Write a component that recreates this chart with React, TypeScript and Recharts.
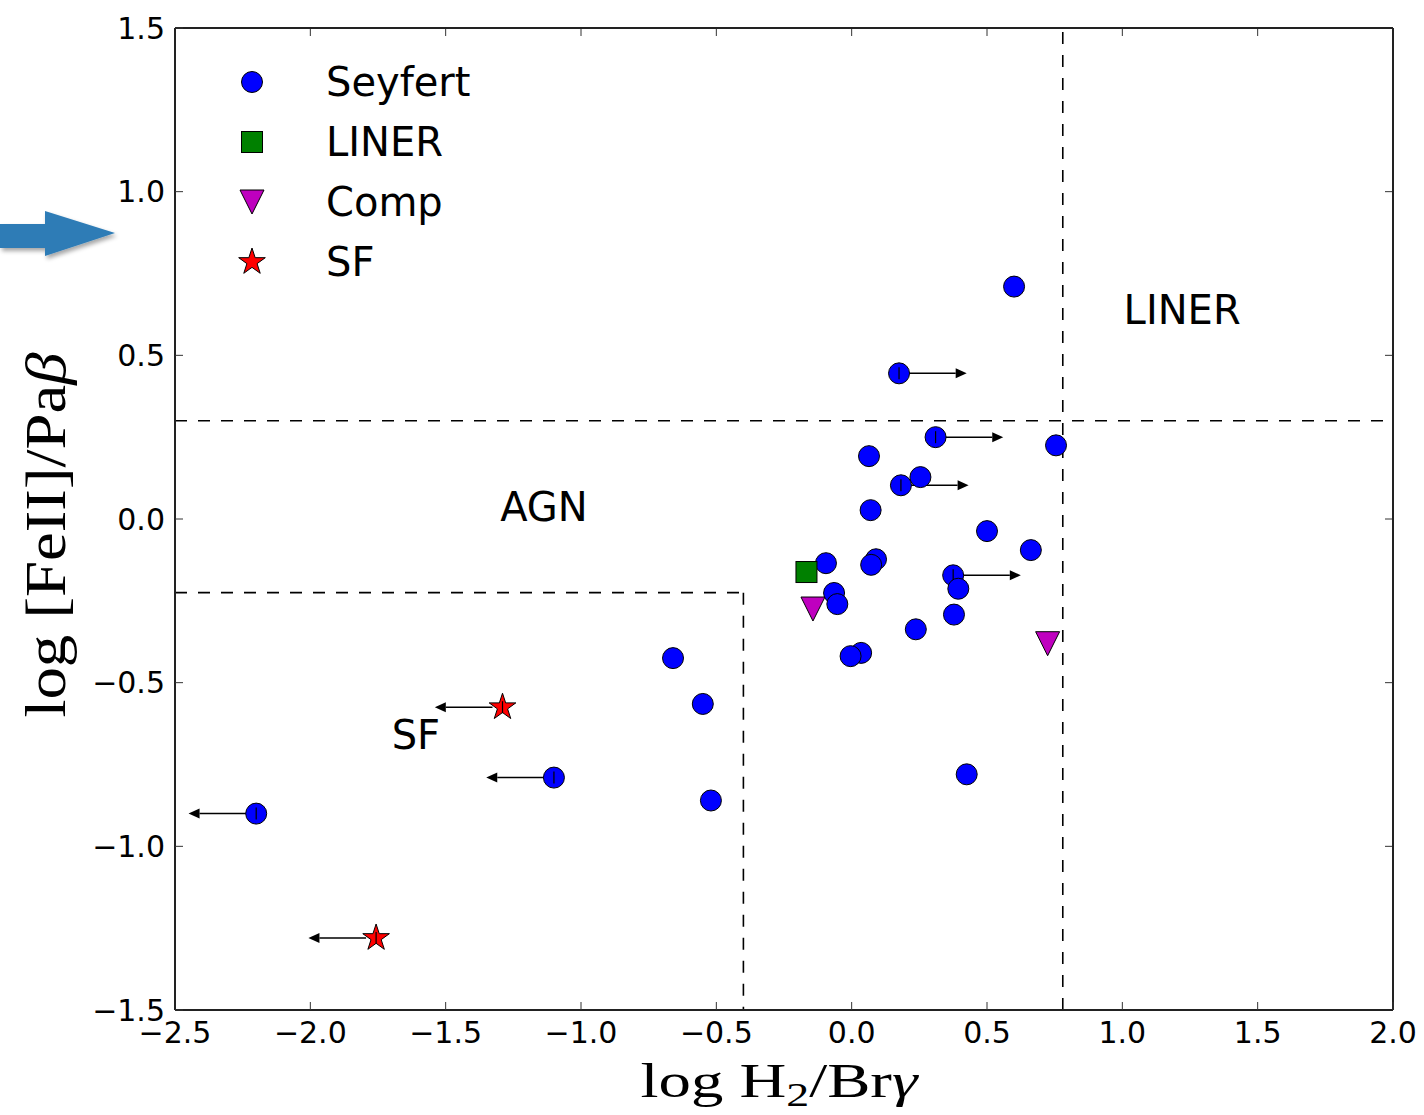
import React from 'react';
import {
  ScatterChart,
  Scatter,
  XAxis,
  YAxis,
  ReferenceLine,
  ReferenceDot,
  Legend,
  Label,
} from 'recharts';

const xTicks = [-2.5, -2, -1.5, -1, -0.5, 0, 0.5, 1, 1.5, 2];
const yTicks = [-1.5, -1, -0.5, 0, 0.5, 1, 1.5];

// lim: 1 = lower limit (arrow right), -1 = upper limit (arrow left)
const seyfert = [
  { x: 0.6, y: 0.71, lim: 0 },
  { x: 0.175, y: 0.445, lim: 1 },
  { x: 0.31, y: 0.25, lim: 1 },
  { x: 0.755, y: 0.225, lim: 0 },
  { x: 0.064, y: 0.192, lim: 0 },
  { x: 0.254, y: 0.128, lim: 0 },
  { x: 0.182, y: 0.103, lim: 1 },
  { x: 0.07, y: 0.027, lim: 0 },
  { x: 0.5, y: -0.037, lim: 0 },
  { x: 0.662, y: -0.095, lim: 0 },
  { x: -0.095, y: -0.135, lim: 0 },
  { x: 0.09, y: -0.123, lim: 0 },
  { x: 0.072, y: -0.14, lim: 0 },
  { x: 0.375, y: -0.172, lim: 1 },
  { x: 0.394, y: -0.213, lim: 0 },
  { x: -0.065, y: -0.226, lim: 0 },
  { x: -0.053, y: -0.26, lim: 0 },
  { x: 0.378, y: -0.292, lim: 0 },
  { x: 0.237, y: -0.337, lim: 0 },
  { x: 0.035, y: -0.409, lim: 0 },
  { x: -0.004, y: -0.419, lim: 0 },
  { x: -0.66, y: -0.425, lim: 0 },
  { x: -0.55, y: -0.565, lim: 0 },
  { x: -1.1, y: -0.79, lim: -1 },
  { x: -0.52, y: -0.86, lim: 0 },
  { x: 0.425, y: -0.78, lim: 0 },
  { x: -2.2, y: -0.9, lim: -1 },
];
const liner = [{ x: -0.167, y: -0.162, lim: 0 }];
const comp = [
  { x: -0.143, y: -0.275, lim: 0 },
  { x: 0.724, y: -0.381, lim: 0 },
];
const sf = [
  { x: -1.29, y: -0.575, lim: -1 },
  { x: -1.757, y: -1.28, lim: -1 },
];

const ARROW_LEN = 0.25;
const sfCut = { x: -0.4, y: -0.225 };
const linerCut = { x: 0.78, y: 0.3 };

const regions = [
  { text: 'AGN', x: -1.137, y: 0.037 },
  { text: 'LINER', x: 1.221, y: 0.639 },
  { text: 'SF', x: -1.61, y: -0.66 },
];

const legendItems = [
  { label: 'Seyfert', kind: 'circle' },
  { label: 'LINER', kind: 'square' },
  { label: 'Comp', kind: 'tri' },
  { label: 'SF', kind: 'star' },
];

const SANS = '"DejaVu Sans", sans-serif';
const SERIF = '"Liberation Serif", serif';

function starPoints(cx: number, cy: number, R: number) {
  const r = R * 0.382;
  const pts: string[] = [];
  for (let k = 0; k < 10; k++) {
    const a = ((-90 + k * 36) * Math.PI) / 180;
    const rr = k % 2 === 0 ? R : r;
    pts.push(`${cx + rr * Math.cos(a)},${cy + rr * Math.sin(a)}`);
  }
  return pts.join(' ');
}

function Marker({ kind, cx, cy }: { kind: string; cx: number; cy: number }) {
  if (kind === 'circle')
    return <circle cx={cx} cy={cy} r={10.5} fill="#0000ff" stroke="#000" strokeWidth={1} />;
  if (kind === 'square')
    return <rect x={cx - 10.5} y={cy - 10.5} width={21} height={21} fill="#008000" stroke="#000" strokeWidth={1} />;
  if (kind === 'tri')
    return (
      <polygon
        points={`${cx - 12},${cy - 12} ${cx + 12},${cy - 12} ${cx},${cy + 12}`}
        fill="#bf00bf"
        stroke="#000"
        strokeWidth={1}
      />
    );
  return <polygon points={starPoints(cx, cy, 14)} fill="#ff0000" stroke="#000" strokeWidth={1} />;
}

const makeShape = (kind: string) => (props: any) => {
  const { cx, cy, payload } = props;
  return (
    <g>
      <Marker kind={kind} cx={cx} cy={cy} />
      {payload && payload.lim ? (
        <line x1={cx} x2={cx} y1={cy - 6} y2={cy + 6} stroke="#000" strokeWidth={1.2} />
      ) : null}
    </g>
  );
};

const ArrowShape = (props: any) => {
  const { x1, y1, x2, y2 } = props;
  const dir = Math.sign(x2 - x1);
  const head = 11;
  return (
    <g>
      <line x1={x1 + dir * 10} y1={y1} x2={x2 - dir * head} y2={y2} stroke="#000" strokeWidth={1.5} />
      <polygon points={`${x2},${y2} ${x2 - dir * head},${y2 - 5} ${x2 - dir * head},${y2 + 5}`} fill="#000" />
    </g>
  );
};

// inward tick marks on the top and right edges of the frame
const TopTick = (props: any) => {
  const top = Math.min(props.y1, props.y2);
  return <line x1={props.x1} x2={props.x1} y1={top} y2={top + 8} stroke="#333" strokeWidth={1} />;
};
const RightTick = (props: any) => {
  const right = Math.max(props.x1, props.x2);
  return <line x1={right - 8} x2={right} y1={props.y1} y2={props.y1} stroke="#333" strokeWidth={1} />;
};

const fmt = (v: number) => (v < 0 ? '\u2212' + Math.abs(v).toFixed(1) : v.toFixed(1));

const tickStyle = { fontSize: 30, fill: '#000', fontFamily: SANS };
const frame = { stroke: '#222', strokeWidth: 2 };
const dash = { stroke: '#000', strokeWidth: 1.6, strokeDasharray: '12 11' };

function LegendBox() {
  return (
    <div style={{ fontFamily: SANS, fontSize: 40, color: '#000' }}>
      {legendItems.map((it) => (
        <div key={it.label} style={{ display: 'flex', alignItems: 'center', height: 60 }}>
          <svg width={30} height={30}>
            <Marker kind={it.kind} cx={15} cy={15} />
          </svg>
          <span style={{ marginLeft: 59, lineHeight: '60px' }}>{it.label}</span>
        </div>
      ))}
    </div>
  );
}

const XLabel = (props: any) => {
  const vb = props.viewBox;
  return (
    <text
      x={vb.x + vb.width / 2 - 5}
      y={vb.y + 87}
      textAnchor="middle"
      fontFamily={SERIF}
      fontSize={48}
      fill="#000"
      textLength={277}
      lengthAdjust="spacingAndGlyphs"
    >
      <tspan>log H</tspan>
      <tspan dy={9} fontSize={34}>2</tspan>
      <tspan dy={-9}>/Br</tspan>
      <tspan fontStyle="italic">γ</tspan>
    </text>
  );
};

const YLabel = () => {
  const cy = 535;
  const cx = 65;
  return (
    <text
      x={cx}
      y={cy}
      transform={`rotate(-90 ${cx} ${cy})`}
      textAnchor="middle"
      fontFamily={SERIF}
      fontSize={58}
      fill="#000"
      textLength={365}
      lengthAdjust="spacingAndGlyphs"
    >
      <tspan>log [FeII]/Pa</tspan>
      <tspan fontStyle="italic">β</tspan>
    </text>
  );
};

const limited = [...seyfert, ...sf].filter((p) => p.lim !== 0);

export default function App() {
  return (
    <div style={{ position: 'absolute', left: 0, top: 0, width: 1424, height: 1115, background: '#fff' }}>
      <svg style={{ position: 'absolute', left: 0, top: 195 }} width={130} height={80}>
        <defs>
          <filter id="sh" x="-20%" y="-20%" width="140%" height="160%">
            <feDropShadow dx={2} dy={3} stdDeviation={2} floodColor="#000" floodOpacity={0.35} />
          </filter>
        </defs>
        <polygon
          points="0,29 45,29 45,16 115,38 45,61 45,53 0,53"
          fill="#2e7cb6"
          filter="url(#sh)"
        />
      </svg>
      <ScatterChart width={1424} height={1115} margin={{ top: 28, right: 31, bottom: 0, left: 0 }}>
        <XAxis
          type="number"
          dataKey="x"
          domain={[-2.5, 2]}
          ticks={xTicks}
          allowDataOverflow
          height={105}
          tickFormatter={fmt}
          tick={tickStyle}
          tickSize={-8}
          tickMargin={20}
          tickLine={{ stroke: '#333' }}
          axisLine={frame}
        >
          <Label content={XLabel} />
        </XAxis>
        <YAxis
          type="number"
          dataKey="y"
          domain={[-1.5, 1.5]}
          ticks={yTicks}
          allowDataOverflow
          width={175}
          tickFormatter={fmt}
          tick={tickStyle}
          tickSize={-8}
          tickMargin={18}
          tickLine={{ stroke: '#333' }}
          axisLine={frame}
        >
          <Label content={YLabel} />
        </YAxis>

        {xTicks.map((t) => (
          <ReferenceLine key={`tt-${t}`} x={t} shape={TopTick} ifOverflow="visible" />
        ))}
        {yTicks.map((t) => (
          <ReferenceLine key={`rt-${t}`} y={t} shape={RightTick} ifOverflow="visible" />
        ))}
        <ReferenceLine x={2} {...frame} ifOverflow="visible" />
        <ReferenceLine y={1.5} {...frame} ifOverflow="visible" />

        <ReferenceLine x={linerCut.x} {...dash} />
        <ReferenceLine y={linerCut.y} {...dash} />
        <ReferenceLine segment={[{ x: -2.5, y: sfCut.y }, { x: sfCut.x, y: sfCut.y }]} {...dash} />
        <ReferenceLine segment={[{ x: sfCut.x, y: sfCut.y }, { x: sfCut.x, y: -1.5 }]} {...dash} />

        {regions.map((r) => (
          <ReferenceDot
            key={r.text}
            x={r.x}
            y={r.y}
            r={0}
            shape={(p: any) => (
              <text
                x={p.cx}
                y={p.cy}
                textAnchor="middle"
                dominantBaseline="central"
                fontFamily={SANS}
                fontSize={40}
                fill="#000"
              >
                {r.text}
              </text>
            )}
          />
        ))}

        {limited.map((p, i) => (
          <ReferenceLine
            key={`lim-${i}`}
            segment={[{ x: p.x, y: p.y }, { x: p.x + p.lim * ARROW_LEN, y: p.y }]}
            shape={ArrowShape}
          />
        ))}

        <Scatter name="Seyfert" data={seyfert} shape={makeShape('circle')} isAnimationActive={false} />
        <Scatter name="LINER" data={liner} shape={makeShape('square')} isAnimationActive={false} />
        <Scatter name="Comp" data={comp} shape={makeShape('tri')} isAnimationActive={false} />
        <Scatter name="SF" data={sf} shape={makeShape('star')} isAnimationActive={false} />

        <Legend
          layout="vertical"
          align="center"
          verticalAlign="middle"
          wrapperStyle={{ left: 237, top: 52, width: 260, height: 240 }}
          content={() => <LegendBox />}
        />
      </ScatterChart>
    </div>
  );
}
